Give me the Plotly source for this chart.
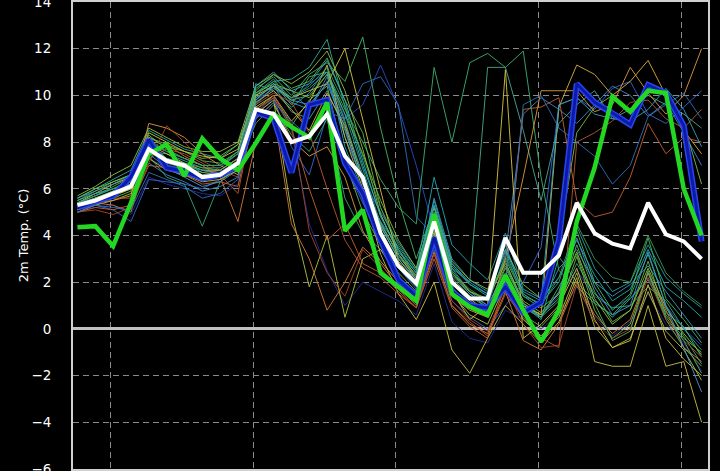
import plotly.graph_objects as go

# 3-hourly forecast steps (index along the time axis)
steps = list(range(36))
# positions of the day boundaries (vertical grid lines) in step units
day_ticks = [1.86, 9.86, 17.86, 25.86, 33.86]
y_ticks = [-6, -4, -2, 0, 2, 4, 6, 8, 10, 12, 14]

ensemble_mean = [5.3, 5.5, 5.8, 6.1, 7.7, 7.2, 7.0, 6.5, 6.6, 7.1, 9.4, 9.2, 8.0, 8.25, 9.2, 7.4, 6.5, 4.1,
                 2.7, 1.95, 4.6, 2.0, 1.3, 1.3, 3.9, 2.4, 2.4, 3.15, 5.4, 4.1, 3.65, 3.45, 5.4, 4.05, 3.75, 3.0]
operational = [4.35, 4.4, 3.55, 5.4, 7.5, 7.9, 6.55, 8.15, 7.3, 6.8, 7.95, 9.2, 8.65, 8.2, 9.7, 4.2, 5.1, 2.4,
               1.8, 1.2, 4.9, 1.5, 0.95, 0.6, 2.3, 0.8, -0.55, 0.8, 4.6, 6.9, 9.95, 9.3, 10.2, 10.1, 6.0, 4.0]
control = [5.2, 5.45, 5.7, 6.5, 8.1, 6.9, 6.75, 6.45, 6.6, 7.0, 9.3, 9.0, 6.7, 9.6, 9.8, 7.1, 5.8, 3.8,
           2.1, 1.4, 3.9, 1.6, 1.0, 0.9, 1.8, 0.7, 1.15, 3.8, 10.5, 9.7, 9.25, 8.75, 10.45, 10.1, 8.7, 3.75]

ensemble_members = [
    [5.0, 5.2, 5.3, 4.9, 6.5, 6.2, 6.0, 5.8, 5.7, 6.2, 9.3, 9.9, 8.5, 4.5, 2.5, 1.0, 2.0, 1.6, 1.2, 0.6, 2.8, 0.3, -0.4, -0.6, 0.8, 0.4, 0.0, 0.6, 1.8, 0.5, -0.3, 0.3, 1.5, 0.2, -0.6, -1.8],
    [5.2, 5.5, 5.8, 6.0, 7.3, 6.9, 6.6, 6.4, 6.6, 7.0, 9.8, 10.3, 9.8, 10.5, 11.0, 9.0, 9.6, 11.3, 9.5, 7.0, 4.2, 2.0, 1.2, 0.8, 1.8, 1.0, 0.6, 1.4, 2.5, 1.4, 0.9, 1.3, 2.2, 1.0, 0.0, -0.7],
    [5.1, 5.3, 5.1, 4.6, 6.4, 6.3, 6.2, 6.0, 6.4, 6.9, 9.1, 9.9, 7.8, 6.6, 9.2, 7.0, 5.4, 3.8, 2.6, 1.7, 3.4, 1.2, 0.5, 0.0, 1.0, 2.0, 3.5, 9.6, 9.9, 9.4, 10.3, 10.6, 9.2, 8.8, 9.5, 10.2],
    [5.3, 5.5, 5.7, 6.0, 7.1, 6.6, 6.3, 5.9, 6.1, 6.5, 9.6, 10.4, 10.2, 9.4, 10.8, 8.2, 6.4, 5.0, 3.7, 2.6, 5.3, 2.6, 1.6, 1.0, 3.2, 9.2, 9.9, 9.4, 8.8, 9.6, 10.4, 10.0, 9.1, 9.7, 8.4, 7.0],
    [5.5, 5.8, 6.0, 6.3, 7.9, 7.3, 7.1, 6.7, 6.8, 7.3, 10.1, 10.7, 9.7, 9.4, 10.6, 8.8, 6.6, 4.4, 3.0, 2.1, 5.6, 3.0, 2.1, 1.6, 3.6, 1.5, 1.0, 2.6, 3.4, 2.0, 1.4, 1.9, 2.7, 1.6, 0.6, -0.4],
    [5.4, 5.6, 5.8, 6.2, 7.6, 7.5, 7.2, 6.9, 6.9, 7.5, 10.5, 10.2, 9.5, 10.1, 11.2, 7.8, 5.9, 4.6, 3.5, 2.5, 6.5, 3.6, 2.8, 2.1, 4.1, 1.7, 1.3, 2.2, 3.8, 2.3, 1.2, 1.7, 3.4, 1.8, 1.2, 0.5],
    [5.6, 6.0, 6.4, 6.8, 8.5, 8.1, 7.7, 7.5, 7.3, 7.9, 10.0, 10.6, 10.7, 11.2, 12.4, 9.5, 7.0, 4.9, 3.3, 2.4, 5.0, 2.7, 1.9, 1.4, 2.9, 1.0, 0.4, 3.1, 2.0, 1.2, 0.5, 1.3, 2.1, 0.7, 0.1, -1.2],
    [5.3, 5.5, 5.7, 6.0, 7.4, 6.5, 6.2, 4.4, 6.3, 7.0, 8.8, 9.6, 8.3, 7.6, 9.0, 5.6, 4.1, 3.4, 2.6, 1.8, 4.4, 2.0, 1.1, 0.8, 2.1, 0.9, 0.5, 1.2, 2.8, 1.5, 0.9, 1.0, 1.8, 1.2, 0.0, -0.9],
    [5.2, 5.6, 5.9, 6.4, 8.0, 7.3, 7.0, 6.8, 6.7, 7.2, 9.8, 10.5, 9.6, 10.8, 11.0, 9.4, 8.0, 6.4, 5.2, 4.5, 11.2, 8.0, 11.4, 11.8, 11.2, 11.9, 6.5, 2.5, 1.8, 1.1, 0.6, 1.4, 3.2, 1.0, -0.3, -1.5],
    [5.4, 5.7, 6.1, 6.5, 8.2, 7.8, 7.6, 7.2, 7.1, 7.6, 10.3, 10.8, 10.0, 10.9, 11.4, 10.6, 12.5, 8.6, 5.5, 3.0, 5.2, 2.5, 1.6, 1.2, 3.0, 1.4, 0.9, 1.5, 4.2, 2.0, 0.8, 1.5, 3.9, 1.3, 0.4, -0.6],
    [5.3, 5.6, 5.9, 6.2, 7.7, 7.0, 6.8, 6.5, 6.6, 7.1, 9.9, 10.4, 9.3, 9.0, 10.2, 8.5, 6.2, 4.6, 3.1, 2.2, 4.8, 2.6, 2.0, 11.2, 11.2, 8.5, 5.5, 8.8, 9.6, 10.2, 9.0, 9.4, 10.0, 9.6, 9.2, 8.6],
    [5.5, 5.9, 6.3, 6.6, 8.3, 7.7, 7.3, 7.0, 7.0, 7.6, 10.2, 10.9, 10.3, 10.6, 11.6, 9.8, 8.4, 5.2, 3.4, 2.2, 4.9, 2.4, 1.5, 0.9, 2.6, 1.1, 0.6, 1.3, 3.6, 1.6, 0.3, 0.8, 2.9, 0.6, -0.4, -1.0],
    [5.1, 5.4, 5.6, 5.9, 7.6, 7.1, 6.9, 6.7, 6.6, 6.9, 9.4, 10.0, 8.7, 9.8, 10.4, 7.2, 5.0, 3.6, 2.4, 1.6, 4.2, 1.8, 0.9, 0.5, 2.2, 0.6, 0.1, 0.9, 3.1, 0.8, -0.4, 0.2, 2.4, 0.4, -0.8, -1.6],
    [5.6, 6.0, 6.3, 6.6, 8.2, 7.9, 7.6, 7.3, 7.4, 7.9, 10.1, 10.5, 10.2, 9.9, 10.9, 9.2, 7.5, 5.5, 3.8, 2.6, 5.2, 2.9, 2.1, 1.7, 3.4, 1.9, 1.3, 3.8, 8.4, 9.5, 10.0, 9.4, 10.4, 10.0, 8.8, 6.2],
    [5.7, 6.1, 6.6, 7.0, 8.6, 8.2, 7.8, 7.6, 7.6, 8.0, 10.4, 10.9, 10.5, 11.0, 11.9, 10.2, 7.7, 4.9, 3.2, 2.3, 4.7, 2.4, 1.6, 1.3, 2.8, 1.2, 0.7, 1.5, 3.3, 1.3, 0.2, 0.8, 2.6, 0.9, -0.2, -1.1],
    [5.0, 5.3, 5.5, 5.8, 7.3, 6.8, 6.6, 6.3, 6.4, 6.8, 9.2, 9.8, 5.0, 1.8, 4.0, 0.5, 3.0, 3.4, 2.2, 1.4, 3.9, 1.5, 0.6, 0.2, 1.9, 0.4, -0.3, 0.5, 2.4, 0.1, -0.8, -0.4, 1.6, -0.1, -0.9, -2.2],
    [5.2, 5.5, 5.7, 6.0, 7.9, 7.5, 7.1, 6.8, 6.8, 7.3, 9.5, 10.0, 8.9, 9.7, 11.3, 8.2, 6.0, 3.2, 1.5, 0.4, 2.0, -0.9, -1.9, -0.4, 1.0, 0.2, -0.6, 0.3, 2.2, -1.4, -1.6, -1.6, 1.0, -1.6, -1.4, -4.0],
    [5.4, 5.8, 6.2, 6.5, 8.4, 8.0, 7.6, 7.4, 7.3, 7.7, 10.0, 10.4, 9.9, 10.2, 10.5, 12.0, 9.0, 6.0, 2.9, 1.9, 4.1, 1.6, 0.4, 1.0, 11.1, -0.4, 0.2, 1.0, 2.6, 0.4, -0.8, -0.5, 1.9, -0.4, -1.3, -2.0],
    [5.3, 5.6, 5.8, 6.1, 7.7, 7.2, 6.9, 6.6, 6.7, 7.2, 9.7, 10.2, 9.4, 8.5, 10.1, 8.7, 6.4, 4.5, 3.2, 2.1, 4.5, 2.1, 1.3, 0.7, 2.3, 1.0, 0.6, 9.5, 11.3, 10.9, 10.0, 10.6, 11.5, 10.0, 8.5, 7.5],
    [5.1, 5.4, 5.5, 5.7, 8.8, 8.6, 8.2, 7.5, 7.0, 6.6, 9.0, 9.7, 8.1, 7.4, 7.8, 6.5, 4.2, 2.9, 2.0, 1.2, 3.6, 1.4, 0.8, 0.5, 3.0, 6.5, 10.2, 10.2, 10.2, 9.3, 9.6, 11.2, 10.1, 9.2, 10.0, 12.0],
    [5.2, 5.4, 5.3, 5.0, 7.5, 7.9, 7.4, 7.0, 6.5, 4.6, 8.0, 9.3, 4.5, 3.0, 0.8, 2.0, 3.5, 2.8, 1.8, 1.0, 3.3, 1.0, 0.2, -0.2, 1.6, -0.5, -0.9, 0.2, 2.0, 0.6, -0.2, 0.4, 2.4, 0.8, -0.8, -1.4],
    [5.0, 5.2, 5.1, 5.3, 7.0, 6.9, 6.6, 6.2, 6.3, 6.1, 9.4, 9.9, 8.6, 6.0, 3.8, 4.5, 2.8, 2.4, 1.6, 0.9, 3.0, 0.9, 0.1, -0.4, 2.0, 9.4, 9.5, 9.9, 5.5, 4.8, 5.0, 6.5, 8.8, 7.5, 8.2, 8.0],
    [5.0, 5.1, 4.9, 5.2, 7.1, 8.7, 8.0, 7.2, 6.8, 6.5, 9.2, 10.0, 8.8, 4.2, 2.4, 1.4, 3.4, 2.6, 1.7, 0.9, 3.6, 1.2, 0.4, -0.1, 1.8, 0.2, -0.8, -0.7, 1.9, 0.3, -0.4, 0.0, 2.2, 0.4, -0.5, -1.2],
    [5.3, 5.5, 5.6, 5.6, 7.3, 7.7, 7.5, 7.1, 6.6, 5.8, 9.6, 10.1, 9.7, 8.4, 6.0, 3.8, 2.6, 2.2, 1.5, 0.9, 3.2, 1.0, 0.3, -0.3, 1.5, 0.5, -0.4, -0.8, 8.0, 8.4, 8.9, 9.7, 9.8, 9.0, 8.6, 9.4],
    [5.0, 5.3, 5.2, 5.1, 6.7, 6.4, 6.1, 5.6, 5.8, 6.4, 9.0, 9.7, 8.9, 8.2, 9.3, 9.0, 10.5, 10.8, 9.6, 4.8, 4.0, 2.1, 1.2, 0.6, 1.9, 9.6, 10.0, 8.6, 8.0, 7.4, 6.2, 7.0, 9.1, 9.6, 10.1, 9.0],
    [5.4, 5.7, 6.0, 6.2, 7.5, 6.9, 6.5, 6.1, 6.3, 6.8, 9.8, 10.5, 9.8, 9.6, 10.5, 8.6, 6.2, 4.4, 3.0, 2.1, 4.8, 2.3, 1.5, 1.0, 2.4, 1.0, 0.5, 1.6, 3.9, 1.8, 0.6, 1.0, 3.3, 1.0, -0.8, -2.7],
    [5.5, 5.8, 6.0, 6.3, 7.8, 7.2, 7.0, 6.8, 6.6, 7.0, 9.7, 10.3, 9.9, 10.3, 11.0, 9.2, 6.8, 4.5, 3.2, 2.2, 5.3, 2.8, 1.9, 1.5, 3.3, 1.4, 1.1, 2.0, 4.4, 2.6, 1.6, 2.0, 3.6, 2.2, 1.5, 0.9],
    [5.6, 5.9, 6.2, 6.6, 8.0, 7.6, 7.3, 7.0, 7.0, 7.5, 10.4, 11.0, 10.2, 10.5, 11.5, 9.8, 7.2, 4.8, 3.4, 2.4, 5.5, 2.8, 2.0, 1.5, 3.4, 1.6, 1.2, 9.6, 9.9, 9.2, 9.0, 8.9, 9.4, 10.3, 9.4, 7.8],
    [5.3, 5.6, 5.9, 6.3, 7.9, 7.3, 7.1, 6.9, 6.8, 7.3, 9.9, 10.4, 9.8, 10.0, 10.9, 8.9, 6.4, 4.4, 3.0, 2.0, 4.6, 2.2, 1.4, 0.9, 2.7, 1.1, 0.5, 1.8, 3.2, 1.1, -0.5, -0.1, 2.5, 0.5, -0.5, -1.9],
    [5.4, 5.7, 6.0, 6.4, 8.1, 7.6, 7.3, 7.0, 7.0, 7.5, 10.1, 10.6, 9.9, 10.4, 11.2, 9.6, 7.4, 5.2, 3.6, 2.5, 4.9, 2.4, 1.7, 1.2, 3.1, 1.5, 1.0, 2.2, 4.5, 3.0, 2.2, 2.0, 4.0, 2.4, 1.6, 1.0],
]
member_colors = [
    "#22309a", "#2c4cc4", "#3568d6", "#3f86cc", "#3a98c0", "#22aab4", "#26b49c", "#34a878",
    "#3fb070", "#45b860", "#48a890", "#5ab850", "#6cb848", "#7fbc40", "#96c040", "#b4c440",
    "#ccc040", "#d8c440", "#dcb040", "#e09a40", "#d87a38", "#c86030", "#a84828", "#b85a30",
    "#3070b8", "#4898d0", "#2ca0a0", "#30a8c0", "#58b060", "#3c9c50",
]

fig = go.Figure()
for vals, col in zip(ensemble_members, member_colors):
    fig.add_trace(go.Scatter(x=steps, y=vals, mode="lines", line=dict(color=col, width=1),
                             opacity=0.9, showlegend=False, hoverinfo="skip"))

fig.add_trace(go.Scatter(x=steps, y=control, mode="lines", line=dict(color="#2a44f0", width=6),
                         showlegend=False, hoverinfo="skip"))
fig.add_trace(go.Scatter(x=steps, y=control, mode="lines", line=dict(color="#0c1aa8", width=3),
                         showlegend=False))
fig.add_trace(go.Scatter(x=steps, y=operational, mode="lines", line=dict(color="#22d822", width=4.5),
                         showlegend=False))
fig.add_trace(go.Scatter(x=steps, y=ensemble_mean, mode="lines", line=dict(color="#ffffff", width=4),
                         showlegend=False))

fig.update_layout(
    width=720, height=471,
    paper_bgcolor="black", plot_bgcolor="black",
    margin=dict(l=73, r=12, t=2, b=2, autoexpand=False),
    font=dict(family="DejaVu Sans", color="white", size=14),
    xaxis=dict(range=[-0.25, 35.36], tickmode="array", tickvals=day_ticks, showticklabels=False,
               ticks="", showgrid=True, gridcolor="#8a8a8a", gridwidth=1, griddash="6px,4px",
               zeroline=False, showline=True, mirror=True, linecolor="#d0d0d0", linewidth=2),
    yaxis=dict(range=[-6, 14], tickmode="array", tickvals=y_ticks, ticks="", ticklabelstandoff=17,
               ticklabeloverflow="allow",
               tickfont=dict(size=13.5, color="white"),
               title=dict(text="2m Temp. (°C)", font=dict(size=13, color="white"), standoff=0),
               showgrid=True, gridcolor="#8a8a8a", gridwidth=1, griddash="6px,4px",
               zeroline=True, zerolinecolor="#c0c0c0", zerolinewidth=2.5,
               showline=True, mirror=True, linecolor="#d0d0d0", linewidth=2),
)

fig.write_html("out.html", config={"displayModeBar": False},
               post_script="document.body.style.margin='0';document.body.style.background='black';")
